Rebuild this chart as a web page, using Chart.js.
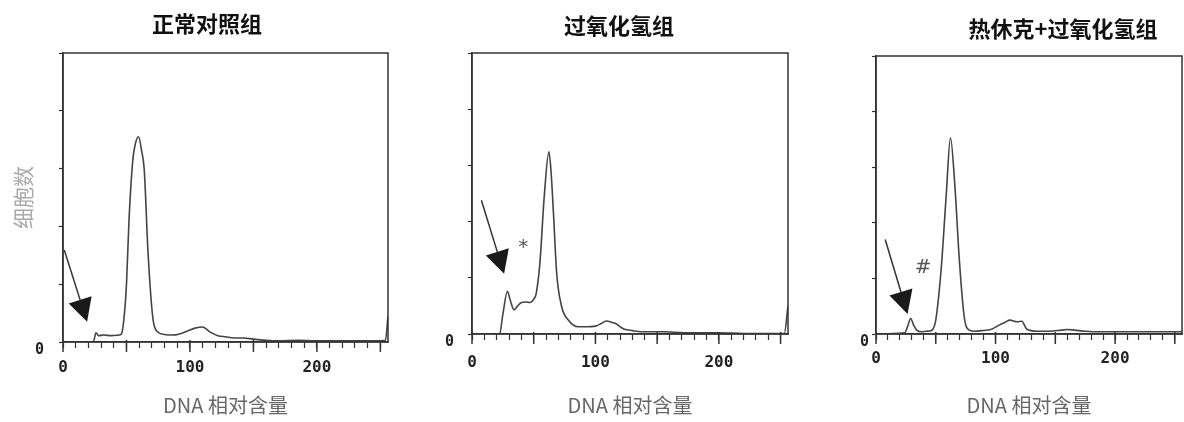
<!DOCTYPE html>
<html>
<head>
<meta charset="utf-8">
<script src="https://cdn.jsdelivr.net/npm/chart.js@4.4.1/dist/chart.umd.min.js"></script>
<style>
  html, body { margin: 0; padding: 0; background: #fff; width: 1184px; height: 422px; overflow: hidden; }
  canvas { position: absolute; top: 0; }
</style>
</head>
<body>
<canvas id="c1" width="414" height="422" style="left:0px"></canvas>
<canvas id="c2" width="438" height="422" style="left:400px"></canvas>
<canvas id="c3" width="546" height="422" style="left:790px"></canvas>
<script>
// data
const titles = ["正常对照组", "过氧化氢组", "热休克+过氧化氢组"];
const xTitle = "DNA 相对含量";
const yTitle = "细胞数";
const xTickLabels = [0, 100, 200];
const yTickLabels = [0];

// 正常对照组
const channels1 = [0, 20, 24, 26, 28, 32, 38, 44, 46, 48, 50, 52, 55, 57, 59.5, 62, 64, 67, 71, 75, 80, 86, 92, 98, 104,
                   110, 116, 122, 128, 135, 142, 150, 160, 170, 185, 200, 215, 230, 245, 254, 256];
const counts1 = [0, 0, 1, 16, 11, 12, 11, 12, 14, 40, 100, 211, 315, 343, 355, 330, 298, 154, 38, 17, 13, 12, 14, 19, 24,
                 26, 17, 11, 9, 7, 7, 5, 3, 2, 3, 2, 2, 2, 2, 3, 45];

// 过氧化氢组
const channels2 = [0, 20, 22.5, 25, 28.7, 31, 34, 37, 40, 44, 47, 50, 52, 55, 58.5, 62.3, 64, 66, 68.6, 72.6, 78, 86,
                   93, 100, 105, 109, 113, 116, 123, 130, 137, 145, 155, 165, 180, 200, 220, 240, 253, 256];
const counts2 = [0, 0, 1, 35, 76, 60, 43, 50, 56, 57, 56, 62, 72, 126, 244, 324, 290, 215, 108, 49, 25, 13,
                 13, 14, 19, 23, 21, 19, 9, 6, 4, 4, 4, 3, 2, 2, 1, 1, 1, 50];

// 热休克+过氧化氢组
const channels3 = [0, 24, 26.5, 29, 31.5, 34, 38, 42, 46, 48, 50, 54.5, 58.7, 62.3, 66, 69.7, 73.8, 78, 83, 88, 96,
                   103, 108, 112, 118, 122, 126, 135, 145, 155, 160, 166, 175, 190, 210, 230, 250, 256];
const counts3 = [0, 2, 14, 28, 16, 7, 4, 5, 6, 10, 25, 116, 248, 353, 266, 134, 31, 7, 5, 6, 8,
                 16, 21, 25, 22, 23, 9, 5, 5, 7, 8, 7, 5, 4, 4, 4, 4, 4];

// arrows and marks, in data units
const arrowStart = [[1, 159], [7.6, 238], [7.7, 170]];
const arrowTip = [[19, 35], [26, 107], [26.4, 36]];
const markText = ["", "*", "#"];
const markPos = [null, [41.5, 154], [39.4, 119]];

const series = [[channels1, counts1], [channels2, counts2], [channels3, counts3]];

// layout of each panel (pixels)
const layout = [
  { padRight: 26, titleTop: 10, titleBottom: 16.6, yWidth: 63, xHeight: 80, xTickPad: 10, yTickPad: 15 },
  { padRight: 50, titleTop: 12, titleBottom: 14.6, yWidth: 72, xHeight: 88, xTickPad: 13, yTickPad: 14 },
  { padRight: 154, titleTop: 15, titleBottom: 14.6, yWidth: 86, xHeight: 88, xTickPad: 9, yTickPad: 3 }
];

const ink = '#333';

// box around the plot, longer ticks every 50, arrows and marks
const frameAndMarks = {
  id: 'frameAndMarks',
  afterDraw(chart, args, opts) {
    const { ctx, chartArea: a, scales: { x, y } } = chart;
    const i = opts.index;
    ctx.save();
    ctx.strokeStyle = ink;
    ctx.lineWidth = 1.5;
    ctx.strokeRect(a.left, a.top, a.right - a.left, a.bottom - a.top);

    x.ticks.forEach(t => {
      if (t.value % 50 === 0) {
        const px = x.getPixelForValue(t.value);
        ctx.beginPath();
        ctx.moveTo(px, a.bottom - 2);
        ctx.lineTo(px, a.bottom + 10);
        ctx.stroke();
      }
    });

    const sx = x.getPixelForValue(arrowStart[i][0]), sy = y.getPixelForValue(arrowStart[i][1]);
    const tx = x.getPixelForValue(arrowTip[i][0]), ty = y.getPixelForValue(arrowTip[i][1]);
    const len = Math.hypot(tx - sx, ty - sy);
    const ux = (tx - sx) / len, uy = (ty - sy) / len;
    const bx = tx - ux * 23, by = ty - uy * 23;
    ctx.beginPath();
    ctx.moveTo(sx, sy);
    ctx.lineTo(bx, by);
    ctx.stroke();
    ctx.fillStyle = '#1a1a1a';
    ctx.beginPath();
    ctx.moveTo(tx, ty);
    ctx.lineTo(bx - uy * 12, by + ux * 12);
    ctx.lineTo(bx + uy * 12, by - ux * 12);
    ctx.closePath();
    ctx.fill();

    if (markText[i]) {
      ctx.font = '20px "DejaVu Sans"';
      ctx.fillStyle = '#555';
      ctx.textAlign = 'center';
      ctx.textBaseline = 'middle';
      ctx.fillText(markText[i], x.getPixelForValue(markPos[i][0]), y.getPixelForValue(markPos[i][1]));
    }
    ctx.restore();
  }
};

function makeChart(i) {
  const L = layout[i];
  const [xs, ys] = series[i];
  return new Chart(document.getElementById('c' + (i + 1)), {
    type: 'line',
    data: {
      datasets: [{
        data: xs.map((v, k) => ({ x: v, y: ys[k] })),
        borderColor: '#444',
        borderWidth: 1.6,
        pointRadius: 0,
        cubicInterpolationMode: 'monotone',
        fill: false
      }]
    },
    plugins: [frameAndMarks],
    options: {
      responsive: false,
      animation: false,
      devicePixelRatio: 1,
      layout: { padding: 0 },
      plugins: {
        legend: { display: false },
        tooltip: { enabled: false },
        title: {
          display: true,
          text: titles[i],
          color: '#111',
          font: { family: '"Noto Sans CJK SC"', size: 22, weight: 'bold' },
          padding: { top: L.titleTop, bottom: L.titleBottom }
        },
        frameAndMarks: { index: i }
      },
      scales: {
        x: {
          type: 'linear',
          min: 0,
          max: 256,
          afterFit: s => { s.height = L.xHeight; },
          afterBuildTicks: s => {
            const t = [];
            for (let v = 0; v <= 250; v += 10) t.push({ value: v });
            s.ticks = t;
          },
          ticks: {
            autoSkip: false,
            maxRotation: 0,
            padding: L.xTickPad,
            color: '#222',
            font: { family: '"DejaVu Sans Mono"', size: 16, weight: 'bold' },
            callback: v => xTickLabels.includes(v) ? String(v) : ''
          },
          grid: { drawOnChartArea: false, tickLength: 6, tickColor: ink, tickWidth: 1.2 },
          border: { color: ink, width: 1.5 },
          title: {
            display: true,
            text: xTitle,
            color: '#666',
            font: { family: '"Noto Sans CJK SC"', size: 20 },
            padding: { top: 0, bottom: 5 }
          }
        },
        y: {
          min: 0,
          max: 500,
          afterFit: s => { s.width = L.yWidth; },
          ticks: {
            stepSize: 100,
            padding: L.yTickPad,
            labelOffset: 8,
            color: '#222',
            font: { family: '"DejaVu Sans Mono"', size: 15, weight: 'bold' },
            callback: v => yTickLabels.includes(v) ? String(v) : ''
          },
          grid: { drawOnChartArea: false, tickLength: 4, tickColor: ink, tickWidth: 1.2 },
          border: { color: ink, width: 1.5 },
          title: {
            display: i === 0,
            text: yTitle,
            color: '#aaa',
            font: { family: '"Noto Sans CJK SC"', size: 21 },
            padding: { top: 10, bottom: 0 }
          }
        },
        // empty right-hand gutter so the title centres on the whole canvas
        gutter: {
          type: 'linear',
          position: 'right',
          display: true,
          afterFit: s => { s.width = L.padRight; },
          grid: { display: false },
          border: { display: false },
          ticks: { display: false }
        }
      }
    }
  });
}

[0, 1, 2].forEach(makeChart);
</script>
</body>
</html>
